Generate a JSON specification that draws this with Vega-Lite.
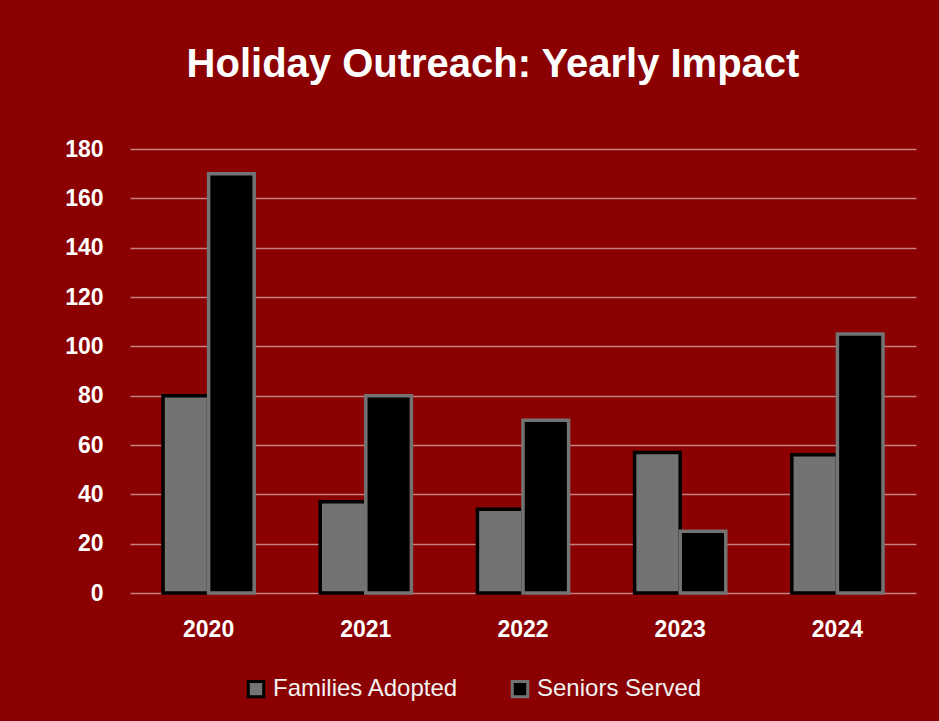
{
  "$schema": "https://vega.github.io/schema/vega-lite/v6.json",
  "width": 786,
  "height": 444,
  "autosize": {"type": "none"},
  "padding": {"left": 130, "right": 23, "top": 149, "bottom": 128},
  "background": "#8B0000",
  "title": {
    "text": "Holiday Outreach: Yearly Impact",
    "font": "Liberation Sans",
    "fontSize": 40,
    "fontWeight": "bold",
    "color": "#FFFFFF",
    "offset": 53,
    "dx": -30
  },
  "data": {
    "values": [
      {"year": "2020", "series": "Families Adopted", "value": 80},
      {"year": "2020", "series": "Seniors Served", "value": 170},
      {"year": "2021", "series": "Families Adopted", "value": 37},
      {"year": "2021", "series": "Seniors Served", "value": 80},
      {"year": "2022", "series": "Families Adopted", "value": 34},
      {"year": "2022", "series": "Seniors Served", "value": 70},
      {"year": "2023", "series": "Families Adopted", "value": 57},
      {"year": "2023", "series": "Seniors Served", "value": 25},
      {"year": "2024", "series": "Families Adopted", "value": 56},
      {"year": "2024", "series": "Seniors Served", "value": 105}
    ]
  },
  "mark": {"type": "bar", "strokeWidth": 3.5},
  "encoding": {
    "x": {
      "field": "year",
      "type": "nominal",
      "scale": {"paddingInner": 0.42, "paddingOuter": 0.21},
      "axis": {
        "title": null,
        "labelAngle": 0,
        "labelFont": "Liberation Sans",
        "labelFontSize": 23,
        "labelFontWeight": "bold",
        "labelColor": "#FFFFFF",
        "labelPadding": 25,
        "domain": false,
        "ticks": false,
        "grid": false
      }
    },
    "xOffset": {
      "field": "series",
      "type": "nominal",
      "sort": ["Families Adopted", "Seniors Served"],
      "scale": {"paddingInner": 0, "paddingOuter": 0}
    },
    "y": {
      "field": "value",
      "type": "quantitative",
      "scale": {"domain": [0, 180]},
      "axis": {
        "title": null,
        "values": [0, 20, 40, 60, 80, 100, 120, 140, 160, 180],
        "labelFont": "Liberation Sans",
        "labelFontSize": 23,
        "labelFontWeight": "bold",
        "labelColor": "#FFFFFF",
        "labelPadding": 27,
        "domain": false,
        "ticks": false,
        "grid": true,
        "gridColor": "#FFFFFF",
        "gridOpacity": 0.5,
        "gridWidth": 1.5
      }
    },
    "fill": {
      "field": "series",
      "type": "nominal",
      "scale": {"domain": ["Families Adopted", "Seniors Served"], "range": ["#737373", "#000000"]},
      "legend": {
        "title": null,
        "orient": "none",
        "legendX": 114,
        "legendY": 528,
        "direction": "horizontal",
        "symbolType": "square",
        "symbolSize": 240,
        "symbolStrokeWidth": 3,
        "labelFont": "Liberation Sans",
        "labelFontSize": 24,
        "labelColor": "#F2F2F2",
        "labelOffset": 5,
        "labelLimit": 400,
        "columnPadding": 47
      }
    },
    "stroke": {
      "field": "series",
      "type": "nominal",
      "scale": {"domain": ["Families Adopted", "Seniors Served"], "range": ["#000000", "#737373"]},
      "legend": {
        "title": null,
        "orient": "none",
        "legendX": 114,
        "legendY": 528,
        "direction": "horizontal",
        "symbolType": "square",
        "symbolSize": 240,
        "symbolStrokeWidth": 3,
        "labelFont": "Liberation Sans",
        "labelFontSize": 24,
        "labelColor": "#F2F2F2",
        "labelOffset": 5,
        "labelLimit": 400,
        "columnPadding": 47
      }
    }
  },
  "config": {"view": {"stroke": null}}
}
